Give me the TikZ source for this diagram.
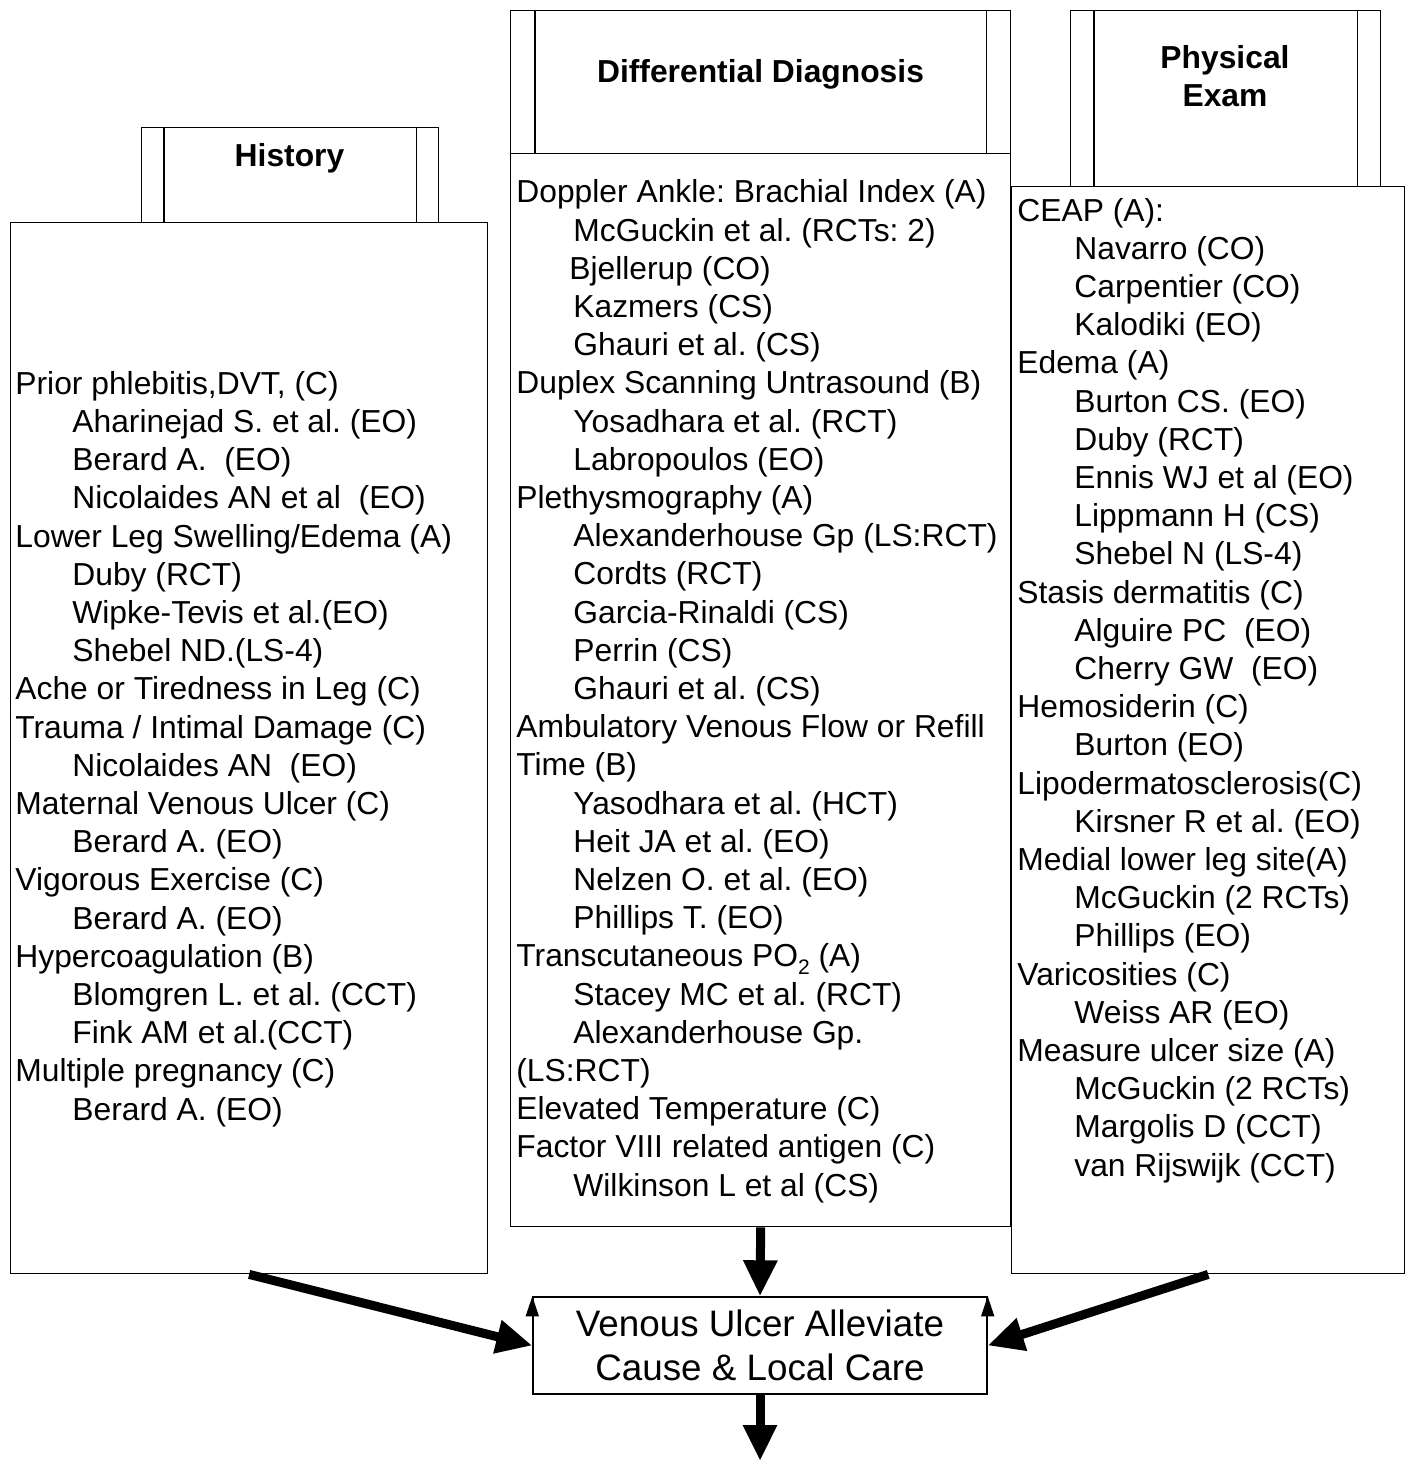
\documentclass[tikz,border=0pt]{standalone}
\usepackage{fontspec}
\setmainfont{Liberation Sans}
\usetikzlibrary{arrows.meta}
\newcommand{\ind}{\hspace*{28.5pt}}
\frenchspacing
\begin{document}
\begin{tikzpicture}[x=0.5pt,y=-0.5pt,
    box/.style={draw,line width=0.7pt,inner sep=0pt,anchor=north west},
    coltext/.style={anchor=base west,align=left,inner sep=0pt,
        font=\fontsize{15.9}{19.1}\selectfont},
    headtext/.style={anchor=base,align=center,inner sep=0pt,
        font=\fontsize{15.9}{19}\selectfont\bfseries},
    bigarrow/.style={line width=4.5pt,-{Triangle[length=18pt,width=16pt]}},
    smallarrow/.style={line width=0.7pt,-{Triangle[length=10pt,width=6.5pt]}}]
\useasboundingbox (0,0) rectangle (1405,1461);

% history column (text nodes sit on the baseline of their last line)
\node[box,minimum width=148.5pt,minimum height=47.5pt] (histhead) at (141,127) {};
\draw[line width=0.7pt] ([xshift=11.5pt]histhead.north west) -- ([xshift=11.5pt]histhead.south west);
\draw[line width=0.7pt] ([xshift=-11.5pt]histhead.north east) -- ([xshift=-11.5pt]histhead.south east);
\node[headtext] (histtitle) at (289.5,166) {History};
\node[box,minimum width=238.5pt,minimum height=525.5pt] (hist) at (10,222) {};
\node[coltext] (histlist) at (15,1120) {Prior phlebitis,DVT, (C)\\
  \ind Aharinejad S. et al. (EO)\\
  \ind Berard A.\ \ (EO)\\
  \ind Nicolaides AN et al\ \ (EO)\\
  Lower Leg Swelling/Edema (A)\\
  \ind Duby (RCT)\\
  \ind Wipke-Tevis et al.(EO)\\
  \ind Shebel ND.(LS-4)\\
  Ache or Tiredness in Leg (C)\\
  Trauma / Intimal Damage (C)\\
  \ind Nicolaides AN\ \ (EO)\\
  Maternal Venous Ulcer (C)\\
  \ind Berard A. (EO)\\
  Vigorous Exercise (C)\\
  \ind Berard A. (EO)\\
  Hypercoagulation (B)\\
  \ind Blomgren L. et al. (CCT)\\
  \ind Fink AM et al.(CCT)\\
  Multiple pregnancy (C)\\
  \ind Berard A. (EO)};

% differential diagnosis column
\node[box,minimum width=250pt,minimum height=71.5pt] (diffhead) at (510,10) {};
\draw[line width=0.7pt] ([xshift=12.5pt]diffhead.north west) -- ([xshift=12.5pt]diffhead.south west);
\draw[line width=0.7pt] ([xshift=-12.5pt]diffhead.north east) -- ([xshift=-12.5pt]diffhead.south east);
\node[headtext] (difftitle) at (760.5,83) {Differential Diagnosis};
\node[box,minimum width=250pt,minimum height=536.5pt] (diff) at (510,153) {};
\node[coltext] (difflist) at (516,1196) {Doppler Ankle: Brachial Index (A)\\
  \ind McGuckin et al. (RCTs: 2)\\
  \hspace*{26.5pt}Bjellerup (CO)\\
  \ind Kazmers (CS)\\
  \ind Ghauri et al. (CS)\\
  Duplex Scanning Untrasound (B)\\
  \ind Yosadhara et al. (RCT)\\
  \ind Labropoulos (EO)\\
  Plethysmography (A)\\
  \ind Alexanderhouse Gp (LS:RCT)\\
  \ind Cordts (RCT)\\
  \ind Garcia-Rinaldi (CS)\\
  \ind Perrin (CS)\\
  \ind Ghauri et al. (CS)\\
  Ambulatory Venous Flow or Refill\\
  Time (B)\\
  \ind Yasodhara et al. (HCT)\\
  \ind Heit JA et al. (EO)\\
  \ind Nelzen O. et al. (EO)\\
  \ind Phillips T. (EO)\\
  Transcutaneous PO\raisebox{-4pt}{\fontsize{10.5}{10}\selectfont 2} (A)\\
  \ind Stacey MC et al. (RCT)\\
  \ind Alexanderhouse Gp.\\
  (LS:RCT)\\
  Elevated Temperature (C)\\
  Factor VIII related antigen (C)\\
  \ind Wilkinson L et al (CS)};

% physical exam column
\node[box,minimum width=155pt,minimum height=88pt] (physhead) at (1070,10) {};
\draw[line width=0.7pt] ([xshift=12pt]physhead.north west) -- ([xshift=12pt]physhead.south west);
\draw[line width=0.7pt] ([xshift=-12pt]physhead.north east) -- ([xshift=-12pt]physhead.south east);
\node[headtext] (phystitle) at (1225,107) {Physical\\Exam};
\node[box,minimum width=196.5pt,minimum height=543.5pt] (phys) at (1011,186) {};
\node[coltext] (physlist) at (1017,1176) {CEAP (A):\\
  \ind Navarro (CO)\\
  \ind Carpentier (CO)\\
  \ind Kalodiki (EO)\\
  Edema (A)\\
  \ind Burton CS. (EO)\\
  \ind Duby (RCT)\\
  \ind Ennis WJ et al (EO)\\
  \ind Lippmann H (CS)\\
  \ind Shebel N (LS-4)\\
  Stasis dermatitis (C)\\
  \ind Alguire PC\ \ (EO)\\
  \ind Cherry GW\ \ (EO)\\
  Hemosiderin (C)\\
  \ind Burton (EO)\\
  Lipodermatosclerosis(C)\\
  \ind Kirsner R et al. (EO)\\
  Medial lower leg site(A)\\
  \ind McGuckin (2 RCTs)\\
  \ind Phillips (EO)\\
  Varicosities (C)\\
  \ind Weiss AR (EO)\\
  Measure ulcer size (A)\\
  \ind McGuckin (2 RCTs)\\
  \ind Margolis D (CCT)\\
  \ind van Rijswijk (CCT)};

% result box
\node[draw,line width=0.7pt,minimum width=227pt,minimum height=48.5pt,align=center,
    font=\fontsize{18.4}{22}\selectfont] (care) at (760,1345.5)
    {Venous Ulcer Alleviate\\Cause \& Local Care};
\coordinate (next) at (760,1461);

\draw[bigarrow] (hist.south) -- (care.west);
\draw[bigarrow] (diff.south) -- (care.north);
\draw[bigarrow] (phys.south) -- (care.east);
\draw[bigarrow] (care.south) -- (next);
\draw[smallarrow] (care.west) -- (care.north west);
\draw[smallarrow] (care.east) -- (care.north east);
\end{tikzpicture}
\end{document}
